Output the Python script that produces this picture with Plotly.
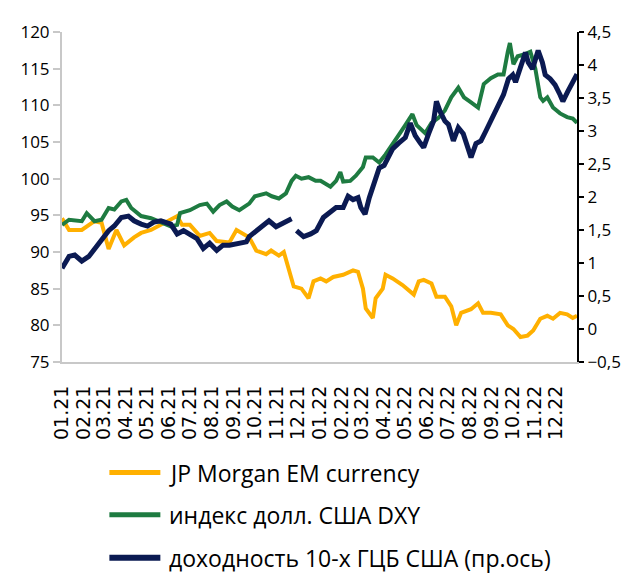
import plotly.graph_objects as go

# JP Morgan EM currency index (left axis)
em_dates = ["2021-01-01", "2021-01-11", "2021-01-29", "2021-02-16", "2021-02-26", "2021-03-08",
            "2021-03-19", "2021-03-30", "2021-04-13", "2021-04-23", "2021-05-07", "2021-05-21",
            "2021-06-04", "2021-06-13", "2021-06-20", "2021-07-01", "2021-07-15", "2021-07-29",
            "2021-08-08", "2021-08-26", "2021-09-05", "2021-09-13", "2021-09-23", "2021-10-03",
            "2021-10-17", "2021-10-24", "2021-11-04", "2021-11-11", "2021-11-21", "2021-11-25",
            "2021-12-06", "2021-12-16", "2021-12-23", "2022-01-02", "2022-01-10", "2022-01-20",
            "2022-02-03", "2022-02-17", "2022-02-24", "2022-03-03", "2022-03-07", "2022-03-17",
            "2022-03-21", "2022-03-31", "2022-04-04", "2022-04-14", "2022-04-28", "2022-05-09",
            "2022-05-14", "2022-05-21", "2022-05-28", "2022-06-08", "2022-06-15", "2022-06-27",
            "2022-07-06", "2022-07-13", "2022-07-20", "2022-08-03", "2022-08-13", "2022-08-20",
            "2022-08-31", "2022-09-14", "2022-09-24", "2022-10-02", "2022-10-12", "2022-10-22",
            "2022-10-30", "2022-11-09", "2022-11-19", "2022-11-27", "2022-12-07", "2022-12-17",
            "2022-12-25", "2022-12-31"]
em_values = [94.6, 93.0, 93.0, 94.2, 94.0, 90.4,
             93.0, 90.9, 92.0, 92.6, 93.0, 93.7,
             94.4, 94.9, 93.7, 93.7, 92.2, 92.6,
             91.5, 91.3, 93.0, 92.6, 92.0, 90.2,
             89.7, 90.2, 89.5, 90.0, 86.9, 85.3,
             85.0, 83.7, 86.0, 86.4, 86.0, 86.6,
             86.9, 87.5, 87.3, 85.0, 82.3, 81.0,
             83.7, 85.0, 86.9, 86.4, 85.5, 84.6,
             84.2, 86.0, 86.2, 85.7, 83.9, 83.9,
             82.6, 80.0, 81.7, 82.2, 83.0, 81.7,
             81.7, 81.5, 80.0, 79.5, 78.4, 78.6,
             79.3, 80.9, 81.3, 80.9, 81.7, 81.5,
             81.0, 81.3]

# US dollar index DXY (left axis)
dxy_dates = ["2021-01-01", "2021-01-11", "2021-01-29", "2021-02-05", "2021-02-16", "2021-02-26",
             "2021-03-08", "2021-03-16", "2021-03-26", "2021-04-02", "2021-04-09", "2021-04-23",
             "2021-05-07", "2021-05-21", "2021-06-04", "2021-06-13", "2021-06-17", "2021-07-01",
             "2021-07-15", "2021-07-25", "2021-08-03", "2021-08-12", "2021-08-22", "2021-08-30",
             "2021-09-09", "2021-09-23", "2021-10-01", "2021-10-17", "2021-10-25", "2021-11-04",
             "2021-11-14", "2021-11-22", "2021-11-28", "2021-12-06", "2021-12-16", "2021-12-26",
             "2022-01-02", "2022-01-16", "2022-01-24", "2022-01-30", "2022-02-03", "2022-02-13",
             "2022-02-21", "2022-03-03", "2022-03-07", "2022-03-17", "2022-03-26", "2022-04-04",
             "2022-04-14", "2022-04-23", "2022-05-02", "2022-05-12", "2022-05-18", "2022-05-30",
             "2022-06-08", "2022-06-18", "2022-06-27", "2022-07-06", "2022-07-16", "2022-07-24",
             "2022-08-03", "2022-08-13", "2022-08-21", "2022-08-31", "2022-09-10", "2022-09-18",
             "2022-09-24", "2022-09-27", "2022-10-02", "2022-10-08", "2022-10-16", "2022-10-26",
             "2022-11-02", "2022-11-09", "2022-11-13", "2022-11-19", "2022-11-27", "2022-12-07",
             "2022-12-17", "2022-12-25", "2022-12-31"]
dxy_values = [93.7, 94.4, 94.2, 95.3, 94.2, 94.4,
              96.0, 95.8, 96.9, 97.1, 96.0, 94.9,
              94.6, 94.0, 93.5, 93.7, 95.3, 95.7,
              96.4, 96.6, 95.5, 96.4, 96.9, 96.2,
              95.7, 96.6, 97.6, 98.0, 97.6, 97.3,
              98.0, 99.7, 100.4, 100.0, 100.2, 99.7,
              99.7, 98.9, 99.7, 100.9, 99.6, 99.7,
              100.4, 101.6, 102.9, 102.9, 102.2, 103.3,
              104.6, 106.0, 107.3, 108.8, 107.3, 106.2,
              107.6, 108.3, 109.3, 111.1, 112.4, 111.1,
              110.4, 109.7, 112.9, 113.7, 114.2, 114.2,
              117.3, 118.5, 115.6, 116.7, 116.9, 117.3,
              115.0, 111.1, 110.6, 111.1, 109.7, 108.9,
              108.4, 108.2, 107.6]

# 10-year UST yield, % (right axis); None = gap in the series
ust_dates = ["2021-01-01", "2021-01-11", "2021-01-19", "2021-01-29", "2021-02-08", "2021-02-16",
             "2021-02-26", "2021-03-08", "2021-03-16", "2021-03-26", "2021-04-05", "2021-04-13",
             "2021-04-23", "2021-05-02", "2021-05-11", "2021-05-21", "2021-06-04", "2021-06-13",
             "2021-06-22", "2021-07-01", "2021-07-11", "2021-07-20", "2021-07-29", "2021-08-08",
             "2021-08-17", "2021-08-26", "2021-09-09", "2021-09-19", "2021-09-23", "2021-10-03",
             "2021-10-11", "2021-10-21", "2021-10-31", "2021-11-08", "2021-11-18", "2021-11-22",
             "2021-11-25", "2021-11-29", "2021-12-09", "2021-12-19", "2021-12-27", "2022-01-06",
             "2022-01-16", "2022-01-24", "2022-02-03", "2022-02-10", "2022-02-17", "2022-02-24",
             "2022-02-28", "2022-03-06", "2022-03-12", "2022-03-19", "2022-03-26", "2022-04-02",
             "2022-04-09", "2022-04-14", "2022-04-23", "2022-05-02", "2022-05-09", "2022-05-16",
             "2022-05-23", "2022-05-28", "2022-06-04", "2022-06-11", "2022-06-15", "2022-06-20",
             "2022-06-27", "2022-07-02", "2022-07-09", "2022-07-16", "2022-07-23", "2022-07-27",
             "2022-08-03", "2022-08-10", "2022-08-17", "2022-08-24", "2022-08-31", "2022-09-10",
             "2022-09-18", "2022-09-25", "2022-10-01", "2022-10-05", "2022-10-12", "2022-10-19",
             "2022-10-23", "2022-10-29", "2022-11-02", "2022-11-06", "2022-11-12", "2022-11-16",
             "2022-11-23", "2022-11-30", "2022-12-07", "2022-12-11", "2022-12-18", "2022-12-25",
             "2022-12-31"]
ust_values = [0.92, 1.10, 1.12, 1.03, 1.10, 1.22,
              1.34, 1.49, 1.56, 1.69, 1.71, 1.64,
              1.59, 1.56, 1.62, 1.64, 1.59, 1.44,
              1.49, 1.44, 1.37, 1.22, 1.30, 1.19,
              1.27, 1.27, 1.30, 1.32, 1.40, 1.49,
              1.56, 1.64, 1.55, 1.59, 1.64, 1.67,
              None, 1.49, 1.40, 1.44, 1.49, 1.69,
              1.78, 1.84, 1.84, 2.01, 1.96, 1.99,
              1.84, 1.74, 1.99, 2.23, 2.44, 2.48,
              2.63, 2.73, 2.82, 2.90, 3.12, 2.93,
              2.82, 2.75, 2.96, 3.15, 3.45, 3.30,
              3.15, 3.10, 2.85, 3.05, 2.96, 2.81,
              2.60, 2.81, 2.85, 3.00, 3.15, 3.34,
              3.55, 3.79, 3.85, 3.74, 3.99, 4.19,
              4.04, 3.94, 4.08, 4.22, 4.04, 3.85,
              3.79, 3.70, 3.55, 3.45, 3.60, 3.74,
              3.86]

series_names = ["JP Morgan EM currency", "индекс долл. США DXY", "доходность 10-х ГЦБ США (пр.ось)"]
colors = ["#FFB000", "#1E7B41", "#0B1A52"]
widths = [4, 4, 5]

fig = go.Figure()

fig.add_trace(go.Scatter(x=em_dates, y=em_values, name=series_names[0], mode="lines",
                         line=dict(color=colors[0], width=widths[0])))
fig.add_trace(go.Scatter(x=dxy_dates, y=dxy_values, name=series_names[1], mode="lines",
                         line=dict(color=colors[1], width=widths[1])))
fig.add_trace(go.Scatter(x=ust_dates, y=ust_values, name=series_names[2], mode="lines",
                         line=dict(color=colors[2], width=widths[2]), yaxis="y2"))

# the page body adds an 8px offset, so the figure is 8px smaller than the window
fig.update_layout(
    width=625,
    height=565,
    margin=dict(l=52, r=49, t=17, b=211),
    paper_bgcolor="white",
    plot_bgcolor="white",
    showlegend=False,
    separators=", ",
    font=dict(family="Open Sans", size=17, color="black"),
    xaxis=dict(
        type="date",
        range=["2021-01-01", "2022-12-31"],
        dtick="M1",
        tick0="2021-01-01",
        tickformat="%m.%y",
        tickangle=-90,
        tickfont=dict(family="DejaVu Sans", size=19),
        ticklabelstandoff=14,
        showgrid=False,
        showline=True,
        linecolor="#C8C8C8",
        linewidth=2,
        ticks="",
        zeroline=False,
    ),
    yaxis=dict(
        range=[75, 120],
        dtick=5,
        showgrid=False,
        showline=True,
        linecolor="#C8C8C8",
        linewidth=2,
        ticks="outside",
        ticklen=7,
        tickcolor="#C8C8C8",
        tickwidth=2,
        zeroline=False,
    ),
    yaxis2=dict(
        range=[-0.5, 4.5],
        dtick=0.5,
        overlaying="y",
        side="right",
        showgrid=False,
        showline=True,
        linecolor="black",
        linewidth=2,
        ticks="outside",
        ticklen=5,
        tickcolor="black",
        tickwidth=2,
        zeroline=False,
    ),
)

# legend drawn below the plot, one row per series
legend_rows = [-0.335, -0.463, -0.593]
for name, color, w, yrow in zip(series_names, colors, widths, legend_rows):
    fig.add_shape(type="line", xref="paper", yref="paper",
                  x0=0.092, x1=0.191, y0=yrow, y1=yrow,
                  line=dict(color=color, width=w + 1))
    fig.add_annotation(xref="paper", yref="paper", x=0.204, y=yrow,
                       text=name, showarrow=False, xanchor="left", yanchor="middle",
                       font=dict(family="Open Sans", size=23, color="black"))

fig.write_html("out.html")
